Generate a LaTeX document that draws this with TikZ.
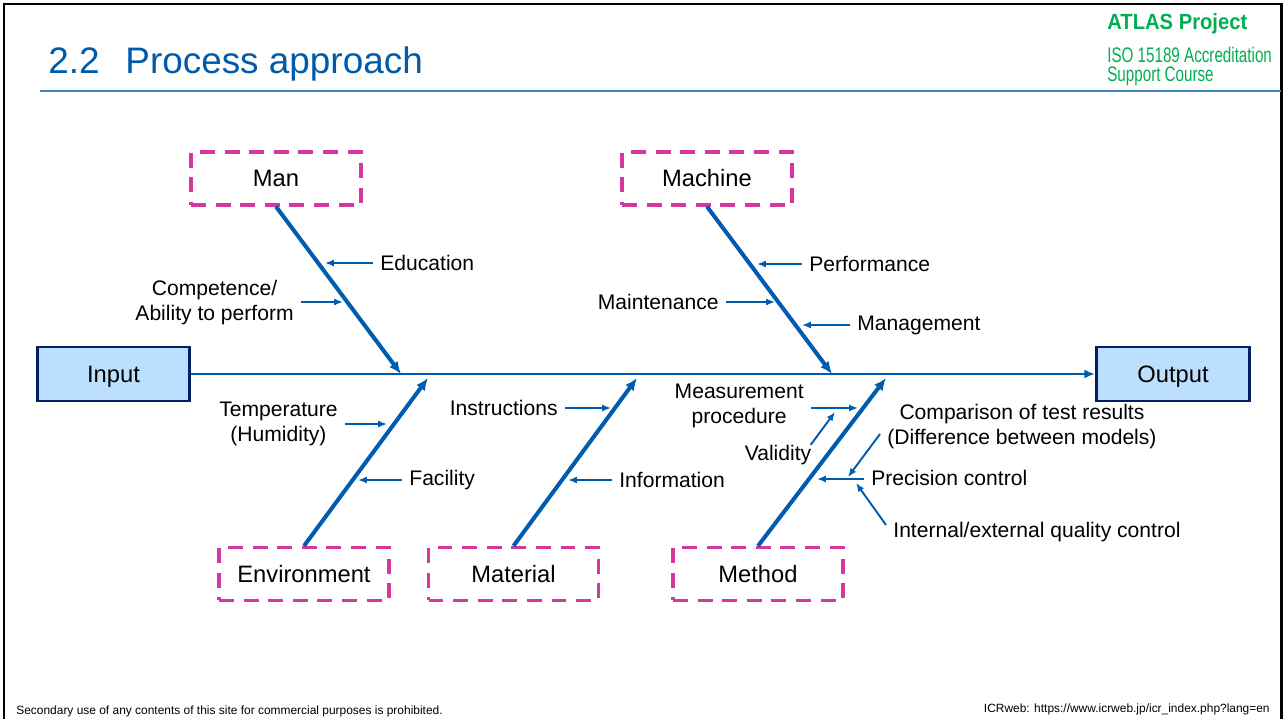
\documentclass[tikz,border=0pt]{standalone}
\usepackage{fontspec}
\setmainfont{Liberation Sans}
\newfontfamily\narrowfont[FakeStretch=0.72]{Liberation Sans}
\newfontfamily\narrowbold[FakeStretch=0.92]{Liberation Sans Bold}
\usetikzlibrary{arrows.meta}

\definecolor{fishblue}{RGB}{0,92,175}
\definecolor{titleblue}{RGB}{0,90,170}
\definecolor{causepink}{RGB}{212,55,160}
\definecolor{boxfill}{RGB}{189,223,254}
\definecolor{boxedge}{RGB}{0,32,96}
\definecolor{atlasgreen}{RGB}{0,176,80}
\definecolor{ruleblue}{RGB}{70,130,190}

\begin{document}
\begin{tikzpicture}[x=0.02cm, y=-0.02cm,
  cause/.style={draw=causepink, line width=1.8pt, dash pattern=on 8.5pt off 5.5pt,
    minimum width=3.4cm, minimum height=1.06cm, font=\fontsize{13.5}{16}\selectfont},
  endbox/.style={draw=boxedge, fill=boxfill, line width=1.7pt, minimum width=3.06cm,
    minimum height=1.08cm, text height=11.5pt, text depth=1.3pt,
    font=\fontsize{13.5}{16}\selectfont},
  spine/.style={draw=fishblue, line width=1.7pt, -{Latex[length=6pt,width=5pt]}},
  rib/.style={draw=fishblue, line width=2.3pt, -{Latex[length=7pt,width=6pt]}},
  twig/.style={draw=fishblue, line width=1.1pt, -{Latex[length=5pt,width=4pt]}},
  lbl/.style={font=\fontsize{12}{14.2}\selectfont, align=center, inner sep=4pt}]
  \useasboundingbox (0,0) rectangle (1284,719);
  % frame, header and footer
  \draw[line width=1.7pt] (4,719) -- (4,4) -- (1281,4) -- (1281,719);
  \draw[ruleblue, line width=0.9pt] (40,91) -- (1281,91);
  \node[anchor=base west, inner sep=0, text=titleblue, font=\fontsize{21}{25}\selectfont]
    (title) at (48,74) {2.2\hspace{0.7em}Process approach};
  \node[anchor=base west, inner sep=0, text=atlasgreen, font=\narrowbold\fontsize{12.5}{15}\selectfont]
    (atlas) at (1107,30) {ATLAS Project};
  \node[anchor=base west, inner sep=0, text=atlasgreen, font=\narrowfont\fontsize{12}{14}\selectfont]
    (iso) at (1107,63) {ISO 15189 Accreditation};
  \node[anchor=base west, inner sep=0, text=atlasgreen, font=\narrowfont\fontsize{12}{14}\selectfont]
    (course) at (1107,82) {Support Course};
  \node[anchor=base west, inner sep=0, font=\fontsize{6.8}{8}\selectfont]
    (notice) at (16,714) {Secondary use of any contents of this site for commercial purposes is prohibited.};
  \node[anchor=base east, inner sep=0, font=\fontsize{6.8}{8}\selectfont]
    (icrweb) at (1270,712) {ICRweb: https://www.icrweb.jp/icr\_index.php?lang=en};

  % spine
  \node[endbox] (input) at (113.5,374) {Input};
  \node[endbox] (output) at (1173,374) {Output};
  \draw[spine] (input) -- (output);

  % causes and ribs
  \node[cause] (man) at (276,178.5) {Man};
  \node[cause] (machine) at (707,178.5) {Machine};
  \node[cause] (environment) at (304,574) {Environment};
  \node[cause] (material) at (513.5,574) {Material};
  \node[cause] (method) at (758,574) {Method};
  \coordinate (mantip) at (401,374);
  \coordinate (machinetip) at (832,374);
  \coordinate (environmenttip) at (428,378);
  \coordinate (materialtip) at (637,378);
  \coordinate (methodtip) at (886,378);
  \draw[rib] (man.south) -- (mantip);
  \draw[rib] (machine.south) -- (machinetip);
  \draw[rib] (environment.north) -- (environmenttip);
  \draw[rib] (material.north) -- (materialtip);
  \draw[rib] (method.north) -- (methodtip);

  % man
  \node[lbl, anchor=west] (education) at (373,263) {Education};
  \node[lbl, anchor=east] (competence) at (301,303) {Competence/\\Ability to perform};
  \coordinate (educationtip) at (325,263);
  \coordinate (competencetip) at (343,302);
  \draw[twig] (education) -- (educationtip);
  \draw[twig] (competence.east |- competencetip) -- (competencetip);

  % machine
  \node[lbl, anchor=west] (performance) at (802,264) {Performance};
  \node[lbl, anchor=east] (maintenance) at (726,302) {Maintenance};
  \node[lbl, anchor=west] (management) at (850,325) {Management};
  \coordinate (performancetip) at (757,264);
  \coordinate (maintenancetip) at (775,302);
  \coordinate (managementtip) at (802,325);
  \draw[twig] (performance) -- (performancetip);
  \draw[twig] (maintenance) -- (maintenancetip);
  \draw[twig] (management) -- (managementtip);

  % environment
  \node[lbl, anchor=east] (temperature) at (345,424) {Temperature\\(Humidity)};
  \node[lbl, anchor=west] (facility) at (402,480) {Facility};
  \coordinate (temperaturetip) at (387,424);
  \coordinate (facilitytip) at (358,480);
  \draw[twig] (temperature) -- (temperaturetip);
  \draw[twig] (facility) -- (facilitytip);

  % material
  \node[lbl, anchor=east] (instructions) at (565,408) {Instructions};
  \node[lbl, anchor=west] (information) at (612,480) {Information};
  \coordinate (instructionstip) at (611,408);
  \coordinate (informationtip) at (568,480);
  \draw[twig] (instructions) -- (instructionstip);
  \draw[twig] (information) -- (informationtip);

  % method
  \node[lbl, anchor=east] (procedure) at (811,406) {Measurement\\procedure};
  \node[lbl] (validity) at (778,455) {Validity};
  \node[lbl, anchor=west] (comparison) at (880,427) {Comparison of test results\\(Difference between models)};
  \node[lbl, anchor=west] (precision) at (864,478) {Precision control};
  \node[lbl, anchor=west] (quality) at (886,532) {Internal/external quality control};
  \coordinate (proceduretip) at (858,408);
  \coordinate (validitytip) at (835,412);
  \coordinate (comparisontip) at (848,477);
  \coordinate (precisiontip) at (817,479);
  \coordinate (qualitytip) at (856,483);
  \draw[twig] (procedure.east |- proceduretip) -- (proceduretip);
  \draw[twig] ([xshift=-4.5pt,yshift=-4pt]validity.north east) -- (validitytip);
  \draw[twig] ([yshift=-4pt]comparison.west) -- (comparisontip);
  \draw[twig] (precision.west |- precisiontip) -- (precisiontip);
  \draw[twig] ([yshift=4pt]quality.west) -- (qualitytip);
\end{tikzpicture}
\end{document}
